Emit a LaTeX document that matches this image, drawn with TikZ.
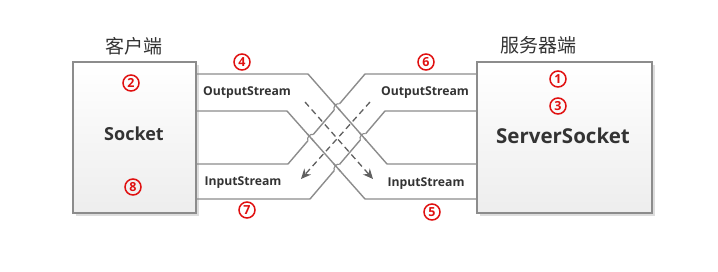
\documentclass[tikz,border=0pt]{standalone}
\usepackage{fontspec}
\setmainfont{Open Sans}
\newfontfamily\cjk{Noto Sans CJK SC}
\usetikzlibrary{shadows,arrows.meta,calc}
\definecolor{linegray}{HTML}{8C8C8C}
\definecolor{txt}{HTML}{333333}
\definecolor{numred}{HTML}{E01010}
\begin{document}
\begin{tikzpicture}[x=1pt,y=-1pt,
  box/.style={draw=linegray, line width=1.2pt, top color=white, bottom color=gray!14,
    drop shadow={shadow xshift=2.5pt, shadow yshift=-2.5pt, fill=gray!45, opacity=0.6},
    anchor=north west, outer sep=0pt, inner sep=0pt},
  pipe/.style={draw=linegray, line width=1.4pt},
  eraser/.style={draw=white, line width=3.5pt},
  dasharrow/.style={draw=gray!75!black, line width=1.3pt, dash pattern=on 6pt off 4pt,
    -{Stealth[length=10pt,width=9pt]}},
  lbl/.style={font=\bfseries\fontsize{12.2}{13}\selectfont, text=txt, inner sep=0pt},
  num/.style={circle, draw=numred, line width=1.5pt, text=numred, inner sep=0pt,
    minimum size=16pt, font=\bfseries\fontsize{12.5}{12.5}\selectfont},
  title/.style={font=\cjk\fontsize{19}{20}\selectfont, text=gray!40!black, inner sep=0pt},
  big/.style={font=\bfseries\fontsize{#1}{#1}\selectfont, text=txt, inner sep=0pt}
]
\useasboundingbox (0,0) rectangle (718,271);

\node[box, minimum width=123pt, minimum height=151pt] (client) at (73,62) {};
\node[box, minimum width=175pt, minimum height=151pt] (server) at (477,62) {};

\node[title] (ct) at (134,46) {客户端};
\node[title] (st) at (538,45) {服务器端};

\node[big=18] (sock) at (134,134) {Socket};
\node[big=20.5] (ssock) at (563,136) {ServerSocket};

% bend points
\coordinate (A1s) at (308,74);  \coordinate (A1e) at (387,164);
\coordinate (A2s) at (287,111); \coordinate (A2e) at (365,199);
\coordinate (B1s) at (288,164); \coordinate (B1e) at (365,74);
\coordinate (B2s) at (310,199); \coordinate (B2e) at (385,111);
% crossings
\coordinate (X11) at (336.9,106.9);
\coordinate (X12) at (363.0,136.7);
\coordinate (X21) at (310.6,137.6);
\coordinate (X22) at (337.0,167.4);

% pipes
\draw[pipe] (client.east |- A1s) -- (A1s) -- (A1e) -- (server.west |- A1e);
\draw[pipe] (client.east |- A2s) -- (A2s) -- (A2e) -- (server.west |- A2e);
\draw[pipe] (client.east |- B1s) -- (B1s) -- (B1e) -- (server.west |- B1e);
\draw[pipe] (client.east |- B2s) -- (B2s) -- (B2e) -- (server.west |- B2e);

% line hops of the rising lines over the falling lines
\foreach \X/\Bs/\Be/\As/\Ae in {X11/B1s/B1e/A1s/A1e, X21/B1s/B1e/A2s/A2e,
                                 X12/B2s/B2e/A1s/A1e, X22/B2s/B2e/A2s/A2e}{
  \draw[eraser] ($(\X)!4pt!(\Bs)$) -- ($(\X)!4pt!(\Be)$);
  \draw[pipe] ($(\X)!5pt!(\As)$) -- ($(\X)!5pt!(\Ae)$);
  \draw[draw=linegray, line width=1.1pt] ($(\X)!4pt!(\Bs)$) to[bend left=80] ($(\X)!4pt!(\Be)$);
}

% dashed arrows
\coordinate (a1s) at (305,102); \coordinate (a1e) at (373,179);
\coordinate (a2s) at (370,102); \coordinate (a2e) at (301,179);
\draw[dasharrow] (a1s) -- (a1e);
\draw[dasharrow] (a2s) -- (a2e);

% stream labels
\node[lbl] (lo) at (247,93) {OutputStream};
\node[lbl] (li) at (243,183) {InputStream};
\node[lbl] (ro) at (425,93) {OutputStream};
\node[lbl] (ri) at (426,184) {InputStream};

% numbers
\node[num] (n1) at (558,79) {1};
\node[num] (n2) at (131,83) {2};
\node[num] (n3) at (558,106) {3};
\node[num] (n4) at (242,62) {4};
\node[num] (n5) at (432,212) {5};
\node[num] (n6) at (426,62) {6};
\node[num] (n7) at (247,210) {7};
\node[num] (n8) at (133,187) {8};
\end{tikzpicture}
\end{document}
